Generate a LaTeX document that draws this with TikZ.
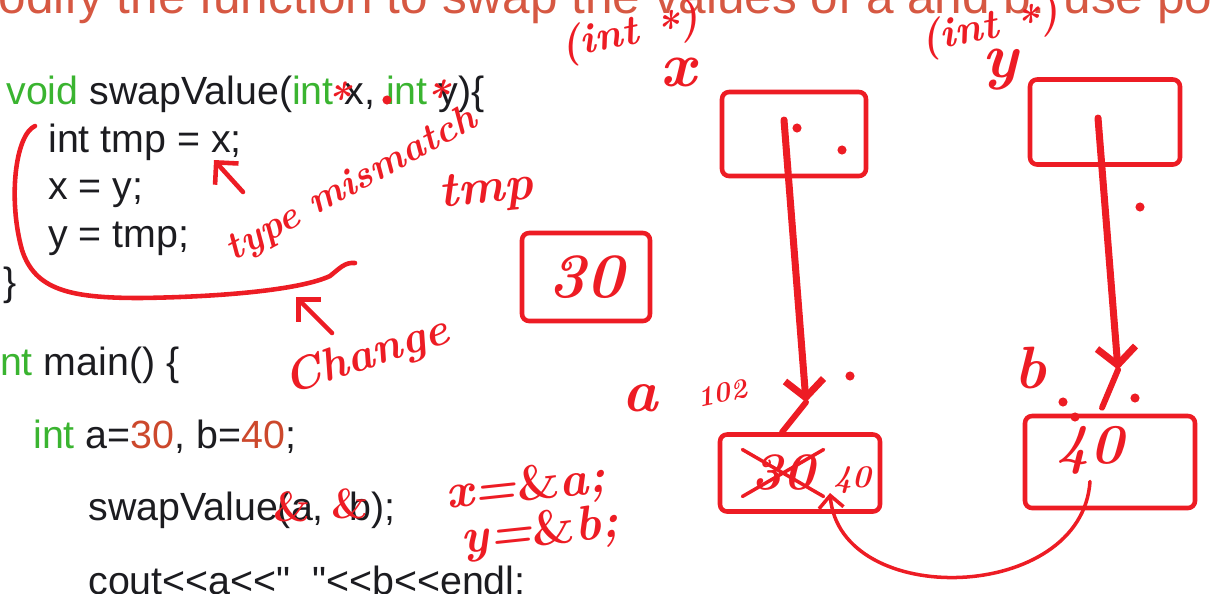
\documentclass[tikz,border=0pt]{standalone}
\usepackage{fontspec}
\usepackage{xcolor}
\newfontfamily\codefont{Liberation Sans}
\usetikzlibrary{positioning,arrows.meta}
\definecolor{penred}{RGB}{237,28,36}
\definecolor{titlered}{RGB}{214,88,66}
\definecolor{kwgreen}{RGB}{58,180,48}
\definecolor{numred}{RGB}{204,72,44}
\definecolor{codeink}{RGB}{28,28,32}
\newcommand{\kw}[1]{\textcolor{kwgreen}{#1}}
\newcommand{\numlit}[1]{\textcolor{numred}{#1}}
\newcommand{\shl}{<\kern0pt<}
\newcommand{\penamp}{\textup{\&}}

\tikzset{
  code/.style={font=\codefont\fontsize{22.4}{26}\selectfont, text=codeink, anchor=base west, inner sep=0pt},
  hand/.style={text=penred, font=\bfseries\itshape\fontsize{#1}{#1}\selectfont, inner sep=0pt},
  pen/.style={draw=penred, line width=2.6pt, line cap=round, line join=round},
  membox/.style={pen, rounded corners=4pt},
  speck/.style={fill=penred, draw=none},
}

\begin{document}
\begin{tikzpicture}[x=0.02cm, y=-0.02cm]
    \useasboundingbox (0,0) rectangle (1211,593);
    \clip (0,0) rectangle (1211,593);

    % slide title, cut off at the top
    \node[font=\codefont\fontsize{28.2}{32}\selectfont, text=titlered, anchor=base west, inner sep=0pt] (title) at (-43,13) {Modify the function to swap the values of a and b. use pointers};

    % code on the slide
    \node[code] (sig) at (6,104) {\kw{void} swapValue(\kw{int} x, \kw{int} y)\{};
    \node[code] (tmpline) at (48,152) {int tmp = x;};
    \node[code] (xline) at (48,199) {x = y;};
    \node[code] (yline) at (48,247) {y = tmp;};
    \node[code] (close) at (3,295) {\}};
    \node[code] (mainline) at (-9,375) {\kw{int} main() \{};
    \node[code] (decl) at (33,448) {\kw{int} a=\numlit{30}, b=\numlit{40};};
    \node[code] (call) at (88,520) {swapValue(a,};
    \node[code] (callend) at ([xshift=14pt]call.base east) {b);};
    \node[code] (cout) at (88,594) {cout\shl a\shl"~~"\shl b\shl endl;};

    % pen marks on the code
    \node[hand=24] (stara) at (338,98) {*};
    \node[hand=24] (starb) at (437,96) {*};
    \node[hand=24] (ampa) at (292,507) {\penamp};
    \node[hand=24] (ampb) at (350,504) {\penamp};
    \draw[pen] (35,126) .. controls (15,135) and (8,200) .. (22,250)
        .. controls (35,290) and (70,298) .. (140,298)
        .. controls (220,297) and (300,290) .. (330,276)
        .. controls (340,268) and (345,262) .. (355,263);
    \coordinate (xtail) at (243,192);
    \coordinate (xtip) at (214,160);
    \draw[pen, -{Straight Barb[length=9pt, width=18pt]}] (xtail) -- (xtip);
    \node[hand=22, rotate=29] (mismatch) at (352,185) {type mismatch};
    \coordinate (chtail) at (332,333);
    \coordinate (chtip) at (296,297);
    \draw[pen, -{Straight Barb[length=9pt, width=18pt]}] (chtail) -- (chtip);
    \node[hand=26, rotate=18] (changelbl) at (367,357) {Change};
    \node[hand=28, rotate=6] (xeq) at (526,488) {x=\penamp a;};
    \node[hand=28, rotate=6] (yeq) at (540,533) {y=\penamp b;};

    % tmp cell
    \node[hand=28, rotate=6] (tmpname) at (486,192) {tmp};
    \node[membox, minimum width=2.56cm, minimum height=1.76cm, hand=36] (tmpbox) at (586,277) {30};

    % pointer cells
    \node[hand=24, rotate=12] (ptrx) at (630,34) {(int \raisebox{-0.35ex}{*})};
    \node[hand=36] (xname) at (678,72) {x};
    \node[membox, minimum width=2.88cm, minimum height=1.68cm] (xbox) at (794,134) {};
    \node[hand=24, rotate=12] (ptry) at (990,28) {(int \raisebox{-0.35ex}{*})};
    \node[hand=36] (yname) at (1000,70) {y};
    \node[membox, minimum width=3.0cm, minimum height=1.7cm] (ybox) at (1105,122) {};

    % value cells
    \node[hand=34] (aname) at (640,398) {a};
    \node[hand=16, rotate=12] (aaddr) at (722,393) {102};
    \node[membox, minimum width=3.2cm, minimum height=1.54cm] (abox) at (800,473) {};
    \node[hand=30] (aold) at (783,473) {30};
    \draw[pen, line width=2pt, shorten <=-6pt, shorten >=-6pt] (aold.north west) -- (aold.south east);
    \draw[pen, line width=2pt, shorten <=-6pt, shorten >=-6pt] (aold.south west) -- (aold.north east);
    \node[hand=18] (anew) at (852,480) {40};
    \node[hand=34] (bname) at (1030,368) {b};
    \node[membox, minimum width=3.4cm, minimum height=1.84cm] (bbox) at (1110,462) {};
    \node[hand=32] (bval) at (1090,450) {40};

    % pointers
    \draw[pen, line width=4pt, -{Straight Barb[length=10pt, width=22pt]}] ([shift={(-10,-14)}]xbox.center) -- ([shift={(6,-30)}]abox.north);
    \draw[pen, line width=3.4pt] ([shift={(6,-30)}]abox.north) -- ([shift={(-18,0)}]abox.north);
    \draw[pen, line width=4pt, -{Straight Barb[length=10pt, width=22pt]}] ([shift={(-7,-4)}]ybox.center) -- ([shift={(8,-44)}]bbox.north);
    \draw[pen, line width=3.4pt] ([shift={(8,-44)}]bbox.north) -- ([shift={(-8,-6)}]bbox.north);

    % value of b copied into a
    \coordinate (aend) at ([shift={(30,20)}]abox.center);
    \draw[pen, line width=2pt, -{Straight Barb[length=7pt, width=14pt]}] ([yshift=-4pt]bval.south) .. controls +(-8,122) and +(10,117) .. (aend);

    % stray pen dots
    \foreach \p in {(797,128),(842,150),(1140,207),(850,376),(1063,402),(1075,417),(1135,398),(387,100)}
        \fill[speck] \p circle (2.6pt);
\end{tikzpicture}
\end{document}
